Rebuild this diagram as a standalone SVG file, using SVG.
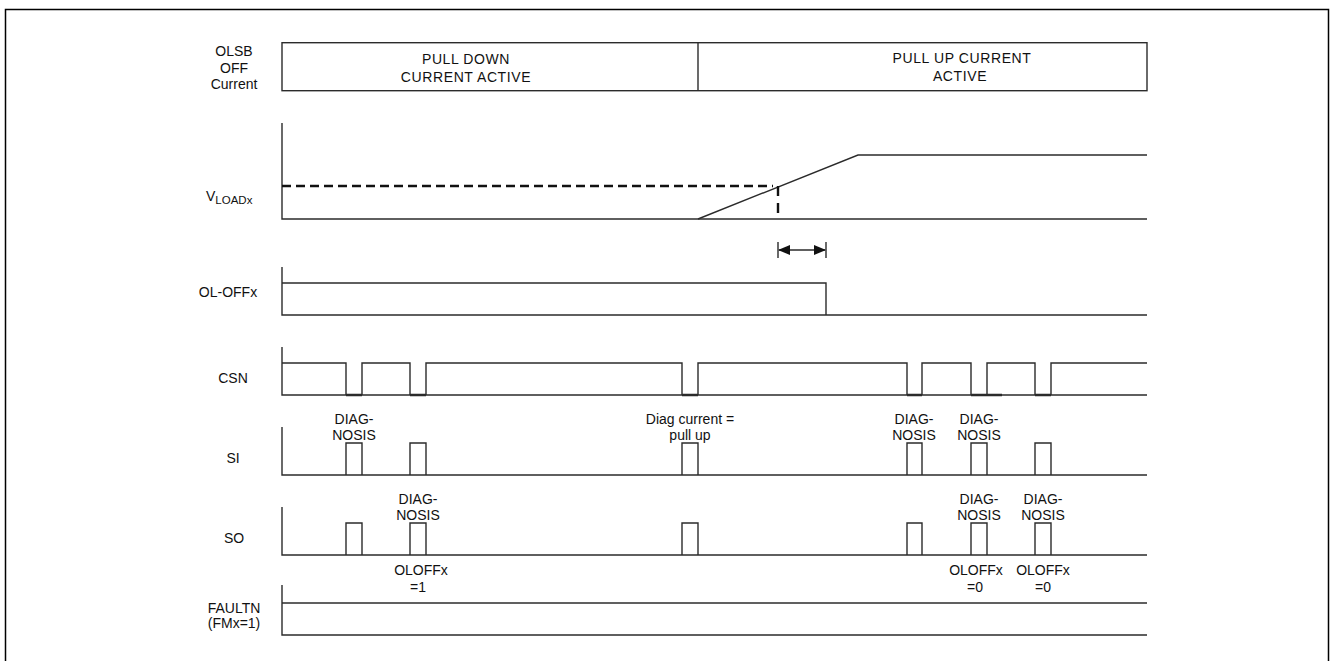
<svg xmlns="http://www.w3.org/2000/svg" width="1331" height="661" viewBox="0 0 1331 661">
<style>
  .ln{fill:none;stroke:#2b2b2b;stroke-width:1.4}
  .thk{fill:none;stroke:#2b2b2b;stroke-width:2.6}
  .dash{fill:none;stroke:#111;stroke-width:2.4;stroke-dasharray:9 5}
  .vdash{fill:none;stroke:#111;stroke-width:2.4;stroke-dasharray:10 7}
  .frame{fill:none;stroke:#000;stroke-width:1.5}
  text{font-family:"Liberation Sans",Arial,sans-serif;font-size:14px;fill:#111;text-anchor:middle}
  .box{letter-spacing:0.6px}
  .sub{font-size:11.5px;text-anchor:start}
  .st{text-anchor:start}
</style>
<defs>
  <marker id="ah" viewBox="0 0 12 10" refX="11" refY="5" markerWidth="12" markerHeight="10" markerUnits="userSpaceOnUse" orient="auto-start-reverse">
    <path d="M0,0 L12,5 L0,10 Z" fill="#111"/>
  </marker>
</defs>
<rect width="1331" height="661" fill="#fff"/>
<path class="frame" d="M5.5,661 V9.5 H1328.5 V661"/>

<g id="olsb">
  <text x="234" y="56">OLSB</text>
  <text x="234" y="72.5">OFF</text>
  <text x="234" y="89">Current</text>
  <rect class="ln" x="282" y="42.7" width="865" height="48"/>
  <path class="ln" d="M698,42.7 V90.7"/>
  <text class="box" x="466" y="64">PULL DOWN</text>
  <text class="box" x="466" y="82">CURRENT ACTIVE</text>
  <text class="box" x="962" y="63">PULL UP CURRENT</text>
  <text class="box" x="960" y="81">ACTIVE</text>
</g>

<g id="vload">
  <text class="st" x="206" y="201">V<tspan class="sub" dy="3">LOADx</tspan></text>
  <path class="ln" d="M282,123 V219 H1147"/>
  <path class="ln" d="M698,219 L858,155 H1147"/>
  <path class="dash" d="M282,186 H773"/>
  <path class="vdash" d="M778,186 V219"/>
</g>

<g id="ol-offx">
  <text x="228" y="297">OL-OFFx</text>
  <path class="ln" d="M282,267 V315 H1147"/>
  <path class="ln" d="M282,283 H826 V315"/>
</g>

<g id="csn">
  <text x="233" y="383">CSN</text>
  <path class="ln" d="M282,347 V395 H1147"/>
  <path class="ln" d="M282,363 H346 V395 M362,395 V363 H410 V395 M426,395 V363 H682 V395 M698,395 V363 H907 V395 M922,395 V363 H971 V395 M987,395 V363 H1035 V395 M1051,395 V363 H1147"/>
  <path class="thk" d="M346,395 H362 M410,395 H426 M682,395 H698 M907,395 H922 M971,395 H1002 M1035,395 H1051"/>
</g>

<g id="si">
  <text x="233" y="463">SI</text>
  <path class="ln" d="M282,427 V475 H1147"/>
  <path class="ln" d="M346,475 V443 H362 V475 M410,475 V443 H426 V475 M682,475 V443 H698 V475 M907,475 V443 H922 V475 M971,475 V443 H987 V475 M1035,475 V443 H1051 V475"/>
  <text x="354" y="424">DIAG-</text>
  <text x="354" y="440">NOSIS</text>
  <text x="690" y="424">Diag current =</text>
  <text x="690" y="440">pull up</text>
  <text x="914" y="424">DIAG-</text>
  <text x="914" y="440">NOSIS</text>
  <text x="979" y="424">DIAG-</text>
  <text x="979" y="440">NOSIS</text>
</g>

<g id="so">
  <text x="234" y="543">SO</text>
  <path class="ln" d="M282,507 V555 H1147"/>
  <path class="ln" d="M346,555 V523 H362 V555 M410,555 V523 H426 V555 M682,555 V523 H698 V555 M907,555 V523 H922 V555 M971,555 V523 H987 V555 M1035,555 V523 H1051 V555"/>
  <text x="418" y="504">DIAG-</text>
  <text x="418" y="520">NOSIS</text>
  <text x="979" y="504">DIAG-</text>
  <text x="979" y="520">NOSIS</text>
  <text x="1043" y="504">DIAG-</text>
  <text x="1043" y="520">NOSIS</text>
  <text x="421" y="575">OLOFFx</text>
  <text x="418" y="591.5">=1</text>
  <text x="976" y="575">OLOFFx</text>
  <text x="975" y="591.5">=0</text>
  <text x="1043" y="575">OLOFFx</text>
  <text x="1043" y="591.5">=0</text>
</g>

<g id="faultn">
  <text x="234" y="613">FAULTN</text>
  <text x="234" y="628">(FMx=1)</text>
  <path class="ln" d="M282,585 V635 H1147"/>
  <path class="ln" d="M282,603 H1147"/>
</g>

<g id="connectors">
  <path class="ln" d="M778,242 V258 M826,242 V258"/>
  <path class="ln" d="M779,250 H825" marker-start="url(#ah)" marker-end="url(#ah)"/>
</g>
</svg>
